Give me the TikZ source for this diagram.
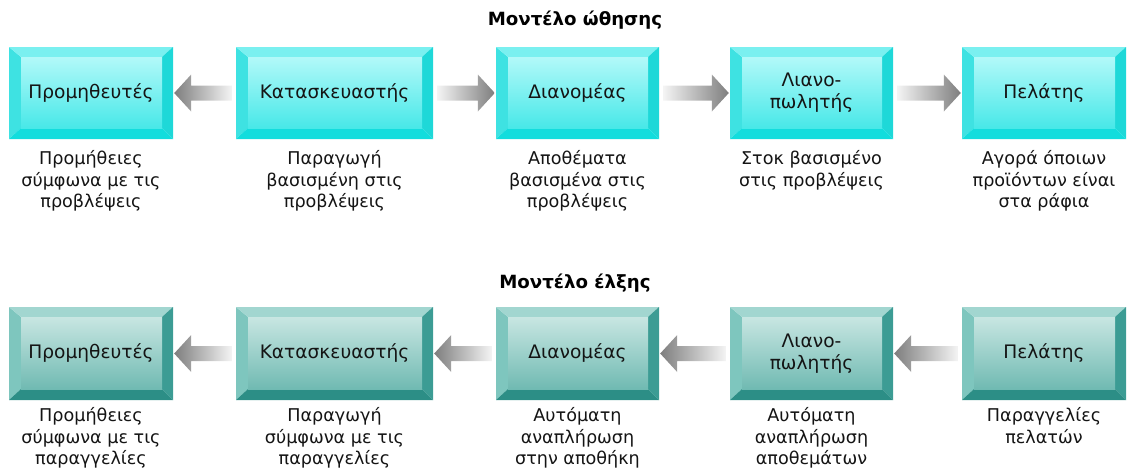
\documentclass[tikz,border=0pt]{standalone}
\usepackage{fontspec}
\setmainfont{DejaVu Sans}
\usetikzlibrary{calc}
\definecolor{cyL}{HTML}{3EE2E2}
\definecolor{cyT}{HTML}{7AF0F0}
\definecolor{cyR}{HTML}{1ED8D8}
\definecolor{cyB}{HTML}{12DDDD}
\definecolor{cyFt}{HTML}{B2F9F9}
\definecolor{cyFb}{HTML}{48E8E8}
\definecolor{tlL}{HTML}{7EC6BE}
\definecolor{tlT}{HTML}{A2D6D0}
\definecolor{tlR}{HTML}{3C9C94}
\definecolor{tlB}{HTML}{2C8E86}
\definecolor{tlFt}{HTML}{C8E6E2}
\definecolor{tlFb}{HTML}{70BAB2}
\definecolor{arrowhead}{HTML}{7E7E7E}
\definecolor{arrowtail}{HTML}{F4F4F4}
\definecolor{txt}{HTML}{141414}
\tikzset{
  cyL/.style={fill=cyL}, cyT/.style={fill=cyT}, cyR/.style={fill=cyR}, cyB/.style={fill=cyB},
  cyF/.style={top color=cyFt, bottom color=cyFb},
  tlL/.style={fill=tlL}, tlT/.style={fill=tlT}, tlR/.style={fill=tlR}, tlB/.style={fill=tlB},
  tlF/.style={top color=tlFt, bottom color=tlFb},
  boxlabel/.style={inner sep=0pt, align=center, text=txt, font=\fontsize{18.6}{22}\selectfont},
  desc/.style={inner sep=0pt, align=center, anchor=north, text=txt, font=\fontsize{17.6}{21.8}\selectfont},
  title/.style={inner sep=0pt, text=black, font=\fontsize{18.2}{21}\selectfont\bfseries},
}
% #1 name, #2 x1, #3 y1, #4 x2, #5 y2, #6 palette, #7 text
\newcommand\bevbox[7]{%
  \fill[#6L] (#2,#3) -- (#2+12,#3+10) -- (#2+12,#5-11) -- (#2,#5) -- cycle;
  \fill[#6T] (#2,#3) -- (#4,#3) -- (#4-11,#3+10) -- (#2+12,#3+10) -- cycle;
  \fill[#6R] (#4,#3) -- (#4,#5) -- (#4-11,#5-11) -- (#4-11,#3+10) -- cycle;
  \fill[#6B] (#2,#5) -- (#4,#5) -- (#4-11,#5-11) -- (#2+12,#5-11) -- cycle;
  \shade[#6F] (#2+12,#3+10) rectangle (#4-11,#5-11);
  \node[boxlabel, minimum width={#4-#2}, minimum height={#5-#3}] (#1) at ({(#2+#4)/2},{(#3+#5)/2}) {#7};
}
% right-pointing arrow from node #1 to node #2
\newcommand\flowR[2]{%
  \shade[left color=arrowtail, right color=arrowhead]
    let \p1=($(#1.east)+(4,0)$), \p2=($(#2.west)+(-1,0)$) in
    (\x1,\y1+7.5pt) -- (\x2-17pt,\y1+7.5pt) -- (\x2-17pt,\y1+18.5pt) -- (\x2,\y1)
    -- (\x2-17pt,\y1-18.5pt) -- (\x2-17pt,\y1-7.5pt) -- (\x1,\y1-7.5pt) -- cycle;
}
% left-pointing arrow from node #1 to node #2
\newcommand\flowL[2]{%
  \shade[left color=arrowhead, right color=arrowtail]
    let \p1=($(#1.west)+(-4,0)$), \p2=($(#2.east)+(1,0)$) in
    (\x1,\y1+7.5pt) -- (\x2+17pt,\y1+7.5pt) -- (\x2+17pt,\y1+18.5pt) -- (\x2,\y1)
    -- (\x2+17pt,\y1-18.5pt) -- (\x2+17pt,\y1-7.5pt) -- (\x1,\y1-7.5pt) -- cycle;
}
\begin{document}
\begin{tikzpicture}[x=1pt,y=-1pt]
\useasboundingbox (0,0) rectangle (1128,472);
% titles
\node[title] (t1) at (575,20) {Μοντέλο ώθησης};
\node[title] (t2) at (575,283) {Μοντέλο έλξης};
% push row
\bevbox{p1}{9}{47}{173}{139}{cy}{Προμηθευτές}
\bevbox{p2}{236}{47}{433}{139}{cy}{Κατασκευαστής}
\bevbox{p3}{496}{47}{659}{139}{cy}{Διανομέας}
\bevbox{p4}{730}{47}{893}{139}{cy}{Λιανο-\\πωλητής}
\bevbox{p5}{962}{47}{1126}{139}{cy}{Πελάτης}
\flowL{p2}{p1}
\flowR{p2}{p3}
\flowR{p3}{p4}
\flowR{p4}{p5}
\node[desc] (pd1) at (p1.center |- 0,150) {Προμήθειες\\σύμφωνα με τις\\προβλέψεις};
\node[desc] (pd2) at (p2.center |- 0,150) {Παραγωγή\\βασισμένη στις\\προβλέψεις};
\node[desc] (pd3) at (p3.center |- 0,150) {Αποθέματα\\βασισμένα στις\\προβλέψεις};
\node[desc] (pd4) at (p4.center |- 0,150) {Στοκ βασισμένο\\στις προβλέψεις};
\node[desc] (pd5) at (p5.center |- 0,150) {Αγορά όποιων\\προϊόντων είναι\\στα ράφια};
% pull row
\bevbox{q1}{9}{307}{173}{400}{tl}{Προμηθευτές}
\bevbox{q2}{236}{307}{433}{400}{tl}{Κατασκευαστής}
\bevbox{q3}{496}{307}{659}{400}{tl}{Διανομέας}
\bevbox{q4}{730}{307}{893}{400}{tl}{Λιανο-\\πωλητής}
\bevbox{q5}{962}{307}{1126}{400}{tl}{Πελάτης}
\flowL{q2}{q1}
\flowL{q3}{q2}
\flowL{q4}{q3}
\flowL{q5}{q4}
\node[desc] (qd1) at (q1.center |- 0,407) {Προμήθειες\\σύμφωνα με τις\\παραγγελίες};
\node[desc] (qd2) at (q2.center |- 0,407) {Παραγωγή\\σύμφωνα με τις\\παραγγελίες};
\node[desc] (qd3) at (q3.center |- 0,407) {Αυτόματη\\αναπλήρωση\\στην αποθήκη};
\node[desc] (qd4) at (q4.center |- 0,407) {Αυτόματη\\αναπλήρωση\\αποθεμάτων};
\node[desc] (qd5) at (q5.center |- 0,407) {Παραγγελίες\\πελατών};
\end{tikzpicture}
\end{document}
